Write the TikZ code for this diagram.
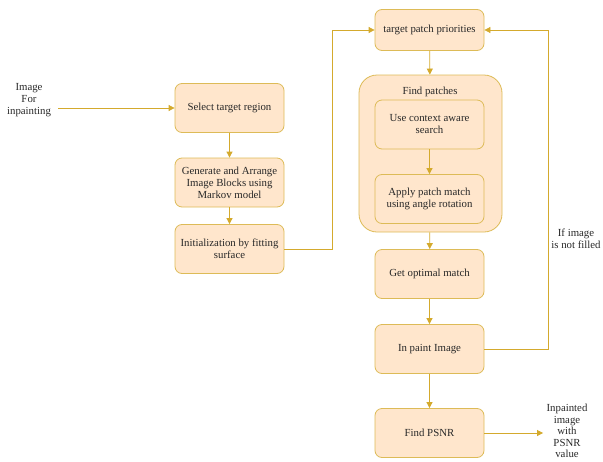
\documentclass[tikz,border=0pt]{standalone}
\usepackage{fontspec}
\setmainfont{Liberation Serif}
\usetikzlibrary{arrows.meta}
\definecolor{boxfill}{RGB}{255,230,204}
\definecolor{gold}{RGB}{212,170,45}
\definecolor{txt}{RGB}{40,40,40}
\begin{document}
\begin{tikzpicture}
  [x=1pt,y=-1pt,
   every node/.style={font=\fontsize{10.8}{12}\selectfont,text=txt,align=center},
   box/.style={draw=gold!80,fill=boxfill,rounded corners=7pt,line width=0.8pt,
     minimum width=109pt,minimum height=49pt},
   arr/.style={draw=gold,line width=0.8pt,-{Triangle[width=6pt,length=6pt]}}]

  \useasboundingbox (0,0) rectangle (603,461);

  % outer group
  \node[box,minimum width=143pt,minimum height=157pt,rounded corners=18pt] (patches) at (430.5,153.5) {};
  \node (plabel) at (430,92) {Find patches};

  \node[box] (sel) at (229.5,108) {Select target region};
  \node[box] (gen) at (229.5,182.5) {Generate and Arrange\\Image Blocks using\\Markov model};
  \node[box] (init) at (229.5,249) {Initialization by fitting\\surface};

  \node[box,minimum height=41pt] (prio) at (429.5,30) {target patch priorities};
  \node[box] (ctx) at (429.5,124.5) {Use context aware\\search};
  \node[box] (rot) at (429.5,199) {Apply patch match\\using angle rotation};
  \node[box] (opt) at (429.5,274) {Get optimal match};
  \node[box] (inp) at (429.5,349) {In paint Image};
  \node[box] (psnr) at (429.5,433) {Find PSNR};

  \node (inimg) at (29,100) {Image\\For\\inpainting};
  \node[font=\fontsize{10.8}{11.6}\selectfont] (outimg) at (567,431) {Inpainted\\image\\with\\PSNR\\value};
  \node (cond) at (576,239) {If image\\is not filled};

  \coordinate (lx) at (332,0);
  \coordinate (rx) at (548,0);

\foreach \from/\to in {sel/gen,gen/init,prio/patches,ctx/rot,patches/opt,opt/inp,inp/psnr}
    \draw[arr] (\from) -- (\to);

  \draw[arr] ([xshift=4pt]sel.west -| inimg.east) -- (sel.west);
  \draw[arr] (psnr.east) -- (psnr.east -| outimg.west);
  \draw[arr] (init.east) -- (init.east -| lx) |- (prio.west);
  \draw[arr] (inp.east) -- (inp.east -| rx) |- (prio.east);

\end{tikzpicture}
\end{document}
